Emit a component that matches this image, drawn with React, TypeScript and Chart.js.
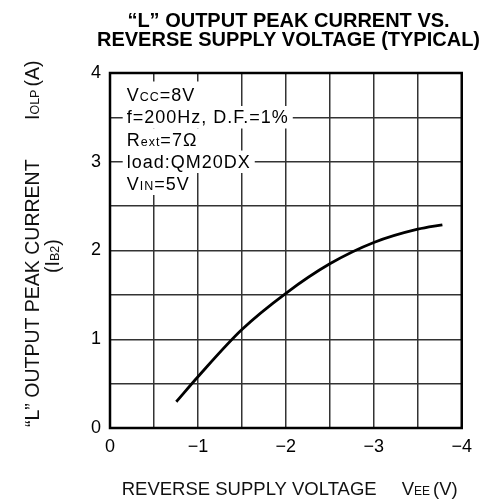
import React, { useEffect, useRef } from "react";
import { Chart, registerables } from "chart.js";

Chart.register(...registerables);

// ---- data ----
const voltage = [-0.754, -1.0, -1.5, -2.0, -2.5, -3.0, -3.5, -3.78];
const current = [0.296, 0.578, 1.11, 1.518, 1.85, 2.09, 2.24, 2.29];
const xTickLabels: Record<string, string> = { "0": "0", "-1": "−1", "-2": "−2", "-3": "−3", "-4": "−4" };
const yTickLabels: Record<string, string> = { "0": "0", "1": "1", "2": "2", "3": "3", "4": "4" };
const titleLines = ["“L” OUTPUT PEAK CURRENT VS.", "REVERSE SUPPLY VOLTAGE (TYPICAL)"];
// annotation lines: [main, small, rest]
const noteLines: [string, string, string][] = [
  ["V", "CC", "=8V"],
  ["f=200Hz, D.F.=1%", "", ""],
  ["R", "ext", "=7Ω"],
  ["load:QM20DX", "", ""],
  ["V", "IN", "=5V"],
];

const FONT = "'Liberation Sans', Arial, Helvetica, sans-serif";

function drawPieces(ctx: CanvasRenderingContext2D, x: number, y: number, pieces: [string, string][]) {
  let cx = x;
  for (const [txt, font] of pieces) {
    if (!txt) continue;
    ctx.font = font;
    ctx.fillText(txt, cx, y);
    cx += ctx.measureText(txt).width;
  }
  return cx;
}

const textPlugin = {
  id: "textPlugin",
  beforeDatasetsDraw(chart: any) {
    const ctx: CanvasRenderingContext2D = chart.ctx;
    ctx.save();
    const x0 = 126.7;
    const baselines = [100.5, 123, 145.5, 167.5, 189.5];
    const big = `18px ${FONT}`;
    const small = `12.5px ${FONT}`;
    (ctx as any).letterSpacing = "1px";
    ctx.textBaseline = "alphabetic";
    ctx.textAlign = "left";
    noteLines.forEach((ln, i) => {
      const pieces: [string, string][] = [[ln[0], big], [ln[1], small], [ln[2], big]];
      let w = 0;
      for (const [t, f] of pieces) {
        if (!t) continue;
        ctx.font = f;
        w += ctx.measureText(t).width;
      }
      const top = i === 0 ? baselines[i] - 19 : baselines[i] - 17;
      ctx.fillStyle = "#fff";
      ctx.fillRect(x0 - 4, top, w + 8, baselines[i] + 5.5 - top);
      ctx.fillStyle = "#000";
      drawPieces(ctx, x0, baselines[i], pieces);
    });
    (ctx as any).letterSpacing = "0px";
    ctx.restore();
  },
  afterDraw(chart: any) {
    const ctx: CanvasRenderingContext2D = chart.ctx;
    const a = chart.chartArea;
    ctx.save();
    // frame
    ctx.strokeStyle = "#000";
    ctx.lineWidth = 2.5;
    ctx.strokeRect(a.left, a.top, a.right - a.left, a.bottom - a.top);
    // title
    ctx.fillStyle = "#000";
    ctx.font = `bold 20px ${FONT}`;
    ctx.textAlign = "center";
    ctx.textBaseline = "alphabetic";
    ctx.fillText(titleLines[0], 288.5, 26.5);
    ctx.fillText(titleLines[1], 288.5, 45.7);
    // x title
    ctx.textAlign = "left";
    ctx.fillStyle = "#111";
    const xb = `18.5px ${FONT}`;
    const xs = `12px ${FONT}`;
    ctx.font = xb;
    ctx.fillText("REVERSE SUPPLY VOLTAGE", 121.7, 495);
    drawPieces(ctx, 401.7, 495, [["V", xb], ["EE", xs]]);
    ctx.font = xb;
    ctx.fillText("(V)", 433, 495);
    // y title (rotated)
    const yb = `19.5px ${FONT}`;
    const ys = `12.5px ${FONT}`;
    ctx.save();
    ctx.translate(38.5, 427);
    ctx.rotate(-Math.PI / 2);
    ctx.font = yb;
    ctx.fillText("“L” OUTPUT PEAK CURRENT", 0, 0);
    ctx.restore();
    ctx.save();
    ctx.translate(38.5, 120);
    ctx.rotate(-Math.PI / 2);
    const ex = drawPieces(ctx, 0, 0, [["I", yb], ["OLP", ys]]);
    ctx.font = yb;
    ctx.fillText("(A)", ex + 3, 0);
    ctx.restore();
    ctx.save();
    ctx.translate(59, 273);
    ctx.rotate(-Math.PI / 2);
    drawPieces(ctx, 0, 0, [["(I", yb], ["B2", ys], [")", yb]]);
    ctx.restore();
    ctx.restore();
  },
};

export default function App() {
  const ref = useRef<HTMLCanvasElement | null>(null);
  useEffect(() => {
    if (!ref.current) return;
    const tickFont = { size: 18, family: FONT };
    const chart = new Chart(ref.current, {
      type: "line",
      data: {
        datasets: [
          {
            data: voltage.map((v, i) => ({ x: v, y: current[i] })),
            borderColor: "#000",
            borderWidth: 2.8,
            pointRadius: 0,
            fill: false,
            cubicInterpolationMode: "monotone",
          },
        ],
      },
      options: {
        animation: false,
        responsive: false,
        layout: { padding: { top: 73, right: 16, bottom: 23, left: 0 } },
        plugins: { legend: { display: false }, tooltip: { enabled: false }, title: { display: false } },
        scales: {
          x: {
            type: "linear",
            min: -4,
            max: 0,
            reverse: true,
            afterFit: (s: any) => {
              s.height = 50;
            },
            ticks: {
              stepSize: 0.5,
              autoSkip: false,
              maxRotation: 0,
              padding: 8,
              color: "#000",
              font: tickFont,
              callback: (v: any) => xTickLabels[String(Math.round(Number(v) * 100) / 100)] ?? "",
            },
            grid: { color: "#333", lineWidth: 1.5, drawTicks: false },
            border: { display: false },
          },
          y: {
            type: "linear",
            min: 0,
            max: 4,
            afterFit: (s: any) => {
              s.width = 110;
            },
            ticks: {
              stepSize: 0.5,
              autoSkip: false,
              padding: 9,
              color: "#000",
              font: tickFont,
              callback: (v: any) => yTickLabels[String(Math.round(Number(v) * 100) / 100)] ?? "",
            },
            grid: { color: "#333", lineWidth: 1.5, drawTicks: false },
            border: { display: false },
          },
        },
      } as any,
      plugins: [textPlugin],
    });
    return () => chart.destroy();
  }, []);
  return (
    <div style={{ position: "fixed", left: 0, top: 0, width: 480, height: 501, background: "#fff" }}>
      <canvas ref={ref} width={480} height={501} style={{ display: "block", width: 480, height: 501 }} />
    </div>
  );
}
